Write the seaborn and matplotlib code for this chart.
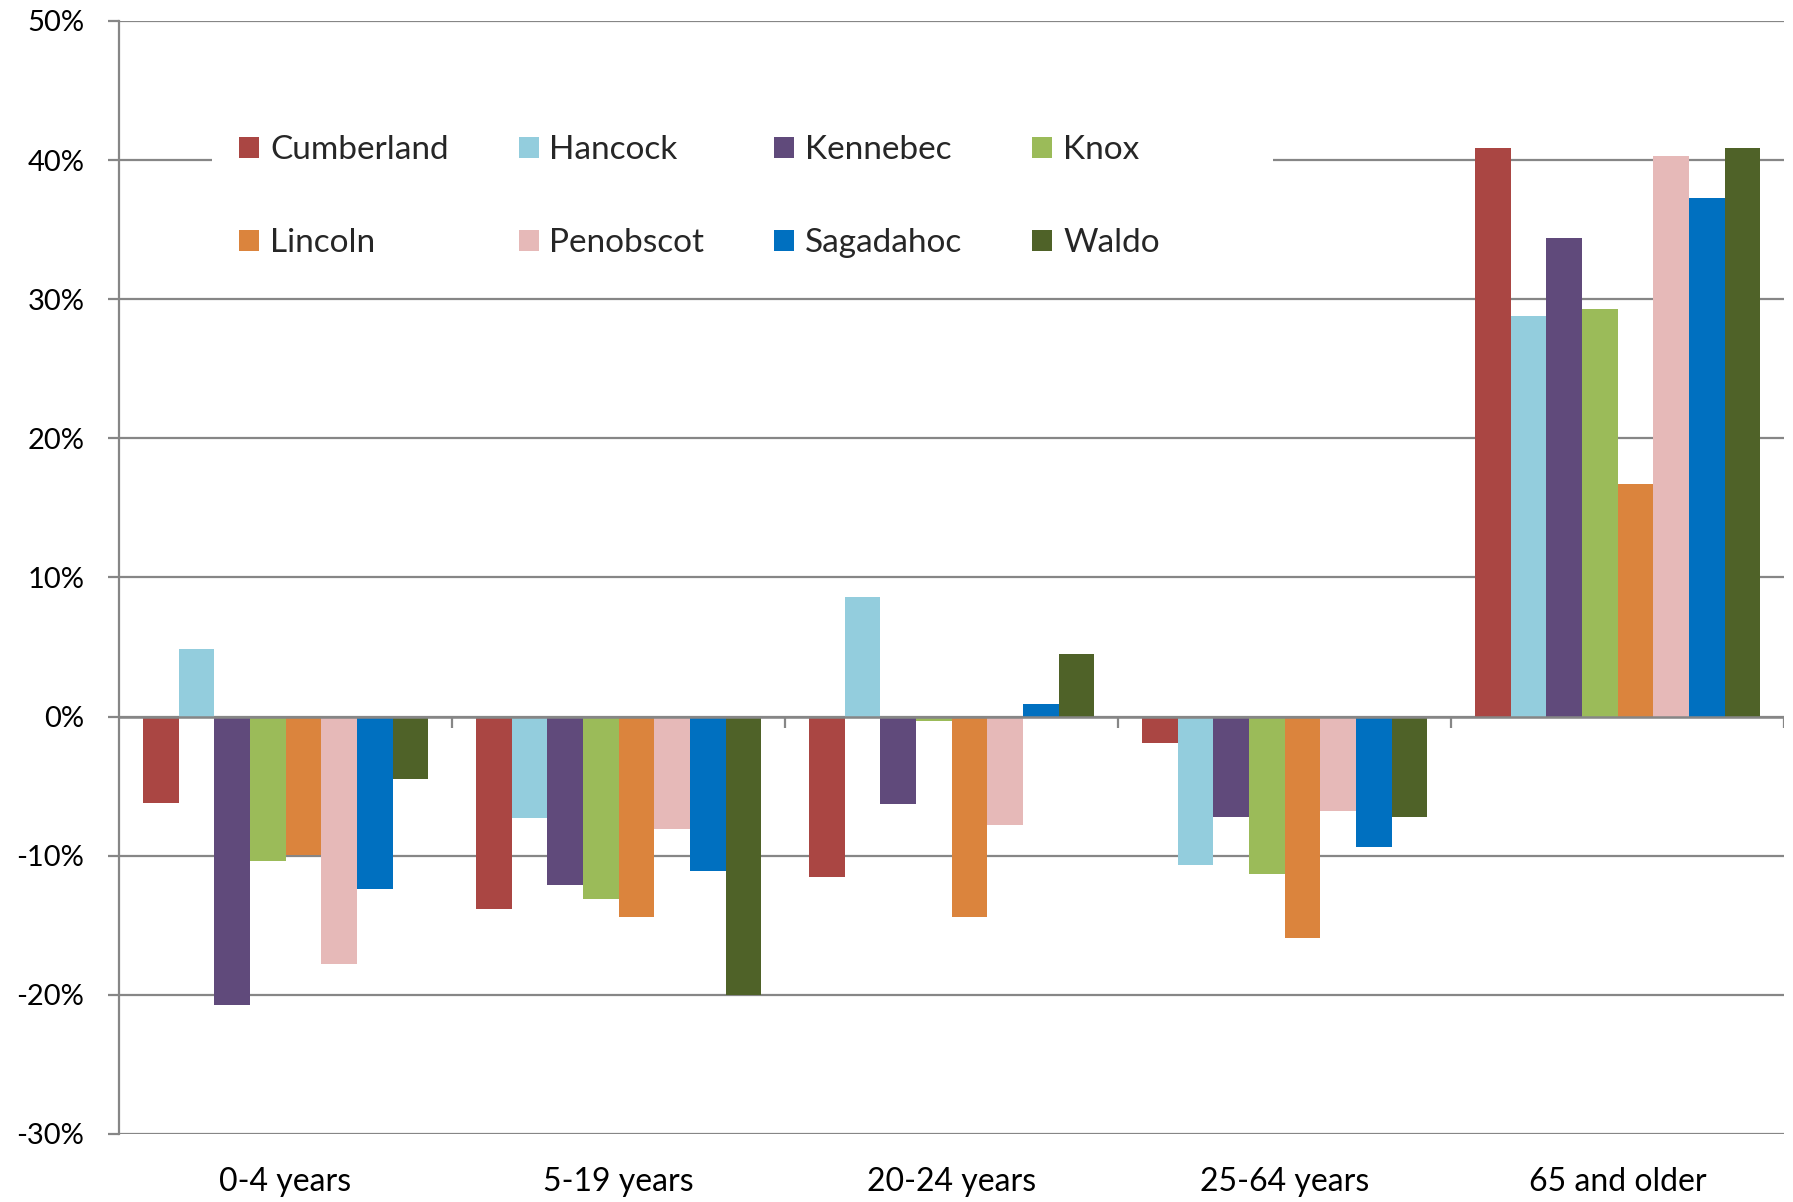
import numpy as np
import pandas as pd
import matplotlib
matplotlib.use('Agg')
import matplotlib.pyplot as plt
import seaborn as sns
from matplotlib.patches import Patch, Rectangle

# Percentage change by age group and county
age_groups = ['0-4 years', '5-19 years', '20-24 years', '25-64 years', '65 and older']
counties = ['Cumberland', 'Hancock', 'Kennebec', 'Knox',
            'Lincoln', 'Penobscot', 'Sagadahoc', 'Waldo']

cumberland = [-6.2, -13.8, -11.5, -1.9, 40.9]
hancock = [4.85, -7.3, 8.6, -10.7, 28.8]
kennebec = [-20.7, -12.1, -6.3, -7.2, 34.4]
knox = [-10.35, -13.1, -0.3, -11.3, 29.3]
lincoln = [-9.95, -14.4, -14.4, -15.9, 16.7]
penobscot = [-17.8, -8.1, -7.8, -6.8, 40.3]
sagadahoc = [-12.4, -11.1, 0.9, -9.4, 37.3]
waldo = [-4.5, -20.0, 4.5, -7.2, 40.9]

colors = ['#AA4643', '#93CDDD', '#604A7B', '#9BBB59',
          '#DB843D', '#E6B9B8', '#0070C0', '#4F6228']

series = [cumberland, hancock, kennebec, knox, lincoln, penobscot, sagadahoc, waldo]
rows = []
for county, vals in zip(counties, series):
    for grp, v in zip(age_groups, vals):
        rows.append({'Age': grp, 'County': county, 'Change': v})
df = pd.DataFrame(rows)

sns.set_theme(style='white')
plt.rcParams['font.family'] = ['Lato', 'DejaVu Sans']

grid_col = '#868686'

fig = plt.figure(figsize=(17.93, 12.02), dpi=100)
ax = fig.add_axes([0.0664, 0.0566, 0.9286, 0.926])

# gridlines under bars
ax.set_axisbelow(True)
ax.yaxis.grid(True, color=grid_col, linewidth=1.6)

sns.barplot(data=df, x='Age', y='Change', hue='County', order=age_groups,
            hue_order=counties, palette=colors, width=0.857, gap=0,
            linewidth=0, saturation=1, legend=False, ax=ax)

ax.set_ylim(-30, 50)
ax.set_xlim(-0.5, len(age_groups) - 0.5)
ax.set_yticks(np.arange(-30, 51, 10))
ax.set_yticklabels([f'{t}%' for t in range(-30, 51, 10)])
ax.set_xlabel('')
ax.set_ylabel('')

for s in ['top', 'right', 'bottom']:
    ax.spines[s].set_visible(False)
ax.spines['left'].set_color(grid_col)
ax.spines['left'].set_linewidth(1.6)

ax.tick_params(axis='y', length=8, width=1.6, color=grid_col, pad=17,
               labelsize=21, labelcolor='black', left=True)
ax.tick_params(axis='x', length=0, pad=24, labelsize=23, labelcolor='black')

# zero line with group boundary ticks
ax.axhline(0, color=grid_col, linewidth=1.8, zorder=3)
bounds = np.arange(0.5, len(age_groups) + 0.5, 1.0)
ax.vlines(bounds, -0.8, 0, color=grid_col, linewidth=1.6, zorder=3)

# white legend area (hides the 40% gridline like the original)
ax.add_patch(Rectangle((0.0556, 0.78), 0.6374, 0.15, transform=ax.transAxes,
                       facecolor='white', edgecolor='none', zorder=0.8))

# row-wise legend order: matplotlib fills columns first
order = [0, 4, 1, 5, 2, 6, 3, 7]
handles = [Patch(facecolor=colors[i], edgecolor='none', label=counties[i]) for i in order]
leg = ax.legend(handles=handles, ncol=4, loc='center left',
                bbox_to_anchor=(0.0523, 0.842), frameon=False, fontsize=24,
                handlelength=0.6, handleheight=0.6, handletextpad=0.32,
                columnspacing=2.1, labelspacing=1.9, borderpad=0.5)

fig.savefig('out.png', dpi=100, facecolor='white')
